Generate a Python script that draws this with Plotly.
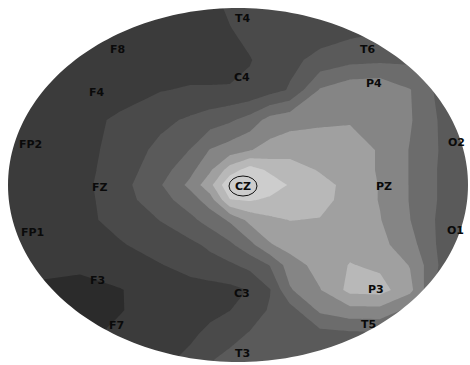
import numpy as np
import plotly.graph_objects as go

# grid (pixel-space positions of the read-off samples)
grid_x = [0, 40, 80, 120, 160, 190, 210, 230, 250, 270, 290, 320, 350, 380, 410, 440, 470]
grid_y = [0, 30, 60, 90, 120, 150, 170, 185, 200, 220, 245, 265, 290, 310, 335, 365]

z_values = [
    [1, 1, 1, 1, 1, 1, 1.25, 1.75, 2, 2, 2, 2, 2, 2, 2.2, 2.5, 2.8],
    [1, 1, 1, 1, 1, 1, 1.1, 1.45, 1.8, 2, 2, 2, 2.2, 2.4, 2.6, 2.8, 3],
    [1, 1, 1, 1, 1, 1, 1, 1.1, 1.45, 1.9, 2.25, 2.8, 3.2, 3.3, 3.3, 3.1, 3],
    [1, 1, 1, 1, 1.45, 1.6, 1.6, 1.6, 1.7, 2.1, 2.6, 4.6, 5.2, 5.3, 4.55, 3.2, 3],
    [1, 1, 1.1, 1.7, 2.25, 2.65, 3.0, 3.35, 3.9, 4.9, 5.2, 5.3, 5.4, 5.3, 4.6, 3.4, 3],
    [1, 1, 1.1, 1.9, 2.75, 3.52, 4.55, 5.0, 5.45, 5.85, 6.0, 6.1, 6.0, 5.4, 4.45, 3.45, 3],
    [1, 1, 1.15, 2.0, 3.05, 4.2, 5.35, 7.0, 8.0, 7.3, 7.1, 6.4, 6.0, 5.4, 4.45, 3.4, 3],
    [1, 1, 1.2, 2.1, 3.4, 4.75, 6.2, 8.4, 8.6, 8.1, 7.4, 6.9, 6.15, 5.45, 4.45, 3.4, 3],
    [1, 1, 1.15, 2.05, 3.1, 4.0, 5.0, 7.45, 7.6, 7.3, 7.2, 6.85, 6.1, 5.45, 4.45, 3.4, 3],
    [1, 1, 1.2, 1.85, 2.52, 3.25, 3.9, 4.65, 5.8, 6.3, 6.52, 6.45, 6.1, 5.55, 4.52, 3.3, 3],
    [1, 1, 1.05, 1.4, 1.95, 2.25, 2.7, 3.3, 4.2, 5.4, 5.9, 6.1, 6.2, 5.8, 4.9, 3.3, 3],
    [1, 0.8, 0.75, 1.1, 1.45, 1.85, 2.1, 2.35, 2.8, 3.55, 5.0, 5.9, 6.55, 6.3, 5.45, 3.4, 3],
    [0.6, 0.3, 0.1, 0.45, 1.0, 1.1, 1.15, 1.25, 1.55, 2.45, 4.4, 5.45, 6.8, 6.9, 5.8, 3.0, 3],
    [0.55, 0.2, 0.15, 0.45, 0.9, 1.05, 1.2, 1.48, 2.0, 2.6, 3.1, 4.7, 5.2, 5.2, 4.2, 3.2, 3],
    [0.55, 0.3, 0.3, 0.7, 1.0, 1.3, 1.8, 2.2, 2.6, 2.9, 3.0, 3.1, 3.2, 3.3, 3.3, 3.1, 3],
    [0.8, 0.8, 0.9, 1.0, 1.3, 1.9, 2.55, 2.9, 3.0, 3.0, 3.0, 3.0, 3.0, 3.0, 3.0, 3.0, 3],
]

# electrode labels
electrodes = ["T4", "F8", "T6", "C4", "P4", "F4", "FP2", "O2", "FZ", "CZ", "PZ",
              "FP1", "O1", "F3", "C3", "P3", "F7", "T5", "T3"]
electrode_x = [243, 117, 368, 242, 374, 97, 30, 456, 100, 243, 384,
               32, 455, 97, 242, 376, 116, 368, 242]
electrode_y = [18, 49, 49, 77, 83, 92, 144, 142, 187, 186, 186,
               232, 230, 280, 293, 289, 325, 324, 353]

level_colors = ["#2b2b2b", "#3b3b3b", "#4a4a4a", "#5a5a5a", "#6c6c6c",
                "#858585", "#a0a0a0", "#b8b8b8", "#cdcdcd"]

n = len(level_colors)
colorscale = []
for k, c in enumerate(level_colors):
    colorscale.append([k / n, c])
    colorscale.append([(k + 1) / n, c])

W, H = 470, 365
fig = go.Figure()
fig.add_trace(go.Contour(
    x=grid_x, y=grid_y, z=z_values,
    zmin=-0.5, zmax=n - 0.5, zauto=False,
    colorscale=colorscale, showscale=False,
    contours=dict(coloring="fill", start=0.5, end=n - 1.5, size=1, showlines=False),
    line=dict(width=0, smoothing=0),
    hoverinfo="skip",
))

# white mask outside the head ellipse
cx, cy, rx, ry = 238, 185, 230, 177
t = np.linspace(0, 2 * np.pi, 241)
ex = cx + rx * np.cos(t)
ey = cy + ry * np.sin(t)
path = "M -20,-20 L 490,-20 L 490,385 L -20,385 Z M " + " L ".join(
    f"{a:.2f},{b:.2f}" for a, b in zip(ex, ey)) + " Z"
shapes = [dict(type="path", path=path, xref="x", yref="y", fillcolor="white",
               line=dict(width=0), fillrule="evenodd", layer="above")]

# ring around CZ
cz = electrodes.index("CZ")
shapes.append(dict(type="circle", xref="x", yref="y",
                   x0=electrode_x[cz] - 14, x1=electrode_x[cz] + 14,
                   y0=electrode_y[cz] - 10, y1=electrode_y[cz] + 10,
                   line=dict(color="#111111", width=1), layer="above"))

annotations = [dict(x=xv, y=yv, xref="x", yref="y", text=f"<b>{name}</b>",
                    showarrow=False, font=dict(family="DejaVu Sans", size=11, color="#0a0a0a"))
               for name, xv, yv in zip(electrodes, electrode_x, electrode_y)]

fig.update_layout(
    width=W, height=H, margin=dict(l=0, r=0, t=0, b=0),
    paper_bgcolor="white", plot_bgcolor="white",
    xaxis=dict(range=[0, W], visible=False, showgrid=False, zeroline=False),
    yaxis=dict(range=[H, 0], visible=False, showgrid=False, zeroline=False),
    shapes=shapes, annotations=annotations, showlegend=False,
)
fig.write_html("out.html")
